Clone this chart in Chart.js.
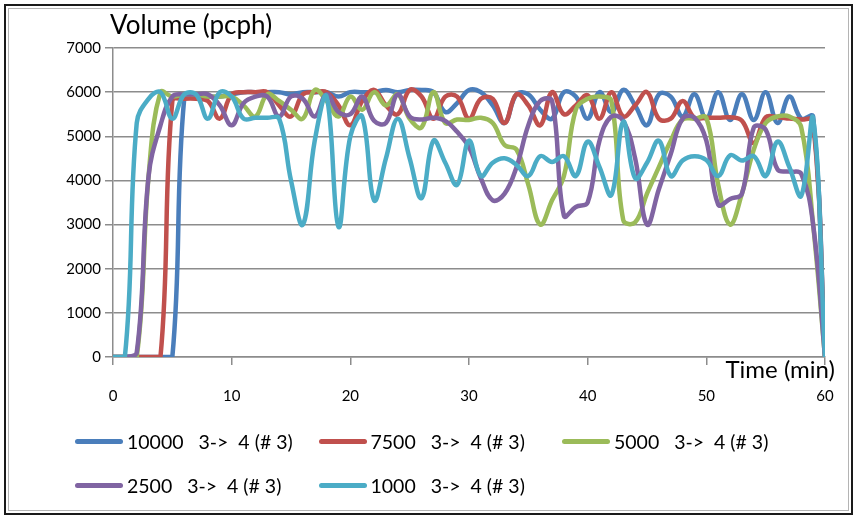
<!DOCTYPE html>
<html>
<head>
<meta charset="utf-8">
<script src="https://cdn.jsdelivr.net/npm/chart.js@4.4.1/dist/chart.umd.min.js"></script>
<style>
  html, body { margin: 0; padding: 0; background: #fff; }
  #wrap { position: relative; width: 858px; height: 518px; overflow: hidden; }
  #chart { position: absolute; left: 0; top: 0; }
  .frame { position: absolute; pointer-events: none; }
  #frameOuter { left: 4px; top: 4px; right: 5px; bottom: 3px; border: 2px solid #1a1a1a; }
  #frameInner { left: 8px; top: 8px; right: 9px; bottom: 7px; border: 1px solid #b4b4b4; }
  .leg { position: absolute; display: flex; align-items: center; font-family: Lato, sans-serif; font-size: 19.5px; color: #000; white-space: pre; }
  .leg .sw { display: inline-block; width: 48px; height: 5px; border-radius: 3px; margin-right: 4px; }
</style>
</head>
<body>
<div id="wrap">
  <canvas id="chart" width="858" height="518"></canvas>
  <div class="frame" id="frameOuter"></div>
  <div class="frame" id="frameInner"></div>
  <div id="legend"></div>
</div>
<script>
// Time axis, minutes
const minutes = [0, 1, 2, 3, 4, 5, 6, 7, 8, 9, 10, 11, 12, 13, 14, 15, 16, 17, 18, 19, 20,
  21, 22, 23, 24, 25, 26, 27, 28, 29, 30, 31, 32, 33, 34, 35, 36, 37, 38, 39, 40,
  41, 42, 43, 44, 45, 46, 47, 48, 49, 50, 51, 52, 53, 54, 55, 56, 57, 58, 59, 60];

// Volume (pcph) per series
const vol10000 = [0, 0, 0, 0, 0, 0, 5850, 5900, 5900, 5900, 5950, 6000, 6000, 6000, 6000, 5950, 6000, 6000, 6000, 5900, 6000,
  6000, 6000, 6050, 6000, 6050, 6050, 6000, 5550, 5750, 6050, 6000, 5700, 5300, 5950, 5950, 5600, 5400, 6000, 5900, 5400,
  6000, 5550, 6050, 5700, 5250, 5950, 5900, 5450, 5950, 5400, 6000, 5370, 5950, 5370, 6000, 5300, 5900, 5400, 5450, 0];
const vol7500 = [0, 0, 0, 0, 0, 5800, 5850, 5850, 5800, 5400, 5950, 6000, 6000, 6000, 5700, 5450, 5950, 6000, 6000, 5700, 5250,
  5800, 6050, 5700, 5500, 6050, 5900, 5400, 5900, 5900, 5400, 5850, 5850, 5300, 5950, 5700, 5250, 6000, 5500, 5700, 5930,
  5400, 6000, 5450, 5700, 6000, 5400, 5400, 5800, 5420, 5420, 5420, 5430, 5350, 4850, 5430, 5430, 5400, 5380, 5350, 0];
const vol5000 = [0, 0, 0, 4100, 6000, 5900, 5950, 5950, 5900, 5900, 5900, 5700, 5450, 5950, 5800, 5600, 5400, 6050, 5800, 5450, 5900,
  5600, 6000, 5700, 5950, 5400, 5200, 6000, 5300, 5380, 5370, 5420, 5300, 4800, 4700, 3900, 3000, 3550, 4100, 5600, 5850,
  5900, 5800, 3100, 3050, 3700, 4300, 4900, 5380, 5400, 5420, 3900, 3000, 3700, 4700, 5300, 5450, 5450, 5200, 3000, 0];
const vol2500 = [0, 0, 100, 4100, 5250, 5900, 5950, 5950, 5950, 5700, 5250, 5750, 5900, 5900, 5450, 5900, 5850, 5450, 5950, 5550, 5500,
  5900, 5350, 5300, 5950, 5450, 5380, 5420, 5350, 5100, 4750, 4050, 3550, 3700, 4300, 5250, 5800, 5800, 3200, 3400, 3500,
  4900, 5450, 5350, 4500, 3000, 3800, 4600, 5400, 5420, 4900, 3450, 3580, 3700, 5200, 5150, 4250, 4200, 4150, 3000, 0];
const vol1000 = [0, 0, 5300, 5850, 6000, 5400, 5950, 5950, 5400, 6000, 5900, 5400, 5420, 5420, 5400, 4000, 3000, 4900, 5900, 2950, 5000,
  5450, 3550, 4500, 5400, 4500, 3600, 4900, 4400, 3900, 4900, 4100, 4400, 4500, 4350, 4100, 4550, 4420, 4550, 4100, 4880,
  4300, 3670, 5330, 4050, 4400, 4900, 4100, 4450, 4550, 4460, 4100, 4570, 4450, 4550, 4100, 4880, 4300, 3650, 5400, 0];

const seriesNames = ['10000   3->  4 (# 3)', '7500   3->  4 (# 3)', '5000   3->  4 (# 3)',
  '2500   3->  4 (# 3)', '1000   3->  4 (# 3)'];
const seriesValues = [vol10000, vol7500, vol5000, vol2500, vol1000];
const seriesColors = ['#4a7ebb', '#c0504d', '#9bbb59', '#8064a2', '#4bacc6'];

const yTicks = [0, 1000, 2000, 3000, 4000, 5000, 6000, 7000];
const xTicks = [0, 10, 20, 30, 40, 50, 60];

const gridGray = '#8c8c8c';

// axis titles sit horizontally, Excel style
const axisTitles = {
  id: 'axisTitles',
  afterDraw(chart) {
    const ctx = chart.ctx;
    const area = chart.chartArea;
    ctx.save();
    ctx.fillStyle = '#000';
    ctx.textBaseline = 'alphabetic';
    ctx.font = '26px Lato';
    ctx.textAlign = 'left';
    ctx.fillText('Volume (pcph)', area.left - 3, area.top - 14);
    ctx.font = '24px Lato';
    ctx.textAlign = 'right';
    ctx.fillText('Time (min)', area.right + 10, area.bottom + 21);
    ctx.restore();
  }
};

const datasets = seriesValues.map(function(vals, i) {
  return {
    label: seriesNames[i],
    data: vals.map(function(v, j) { return { x: minutes[j], y: v }; }),
    borderColor: seriesColors[i],
    backgroundColor: seriesColors[i],
    order: seriesValues.length - i
  };
});

new Chart(document.getElementById('chart'), {
  type: 'line',
  data: { datasets: datasets },
  options: {
    responsive: false,
    animation: false,
    layout: { padding: { top: 48, right: 33, left: 0, bottom: 0 } },
    plugins: { legend: { display: false }, tooltip: { enabled: false } },
    elements: {
      point: { radius: 0 },
      line: { borderWidth: 4.5, tension: 0.4, borderCapStyle: 'round', borderJoinStyle: 'round', fill: false }
    },
    scales: {
      x: {
        type: 'linear',
        min: xTicks[0],
        max: xTicks[xTicks.length - 1],
        afterBuildTicks: function(s) { s.ticks = xTicks.map(function(v) { return { value: v }; }); },
        afterFit: function(s) { s.height = 161; },
        ticks: { padding: 22, color: '#000', font: { family: 'Lato', size: 15 }, maxRotation: 0,
          callback: function(v) { return String(v); } },
        grid: { drawOnChartArea: false, tickLength: 8, color: gridGray, lineWidth: 1.5 },
        border: { color: gridGray, width: 1.5 }
      },
      y: {
        min: yTicks[0],
        max: yTicks[yTicks.length - 1],
        afterBuildTicks: function(s) { s.ticks = yTicks.map(function(v) { return { value: v }; }); },
        afterFit: function(s) { s.width = 113; },
        ticks: { padding: 4, color: '#000', font: { family: 'Lato', size: 15 },
          callback: function(v) { return String(v); } },
        grid: { tickLength: 8, color: gridGray, lineWidth: 1.5 },
        border: { color: gridGray, width: 1.5 }
      }
    }
  },
  plugins: [axisTitles]
});

// legend, three columns like Excel
const legend = document.getElementById('legend');
seriesNames.forEach(function(name, i) {
  const item = document.createElement('div');
  item.className = 'leg';
  item.style.left = (75 + (i % 3) * 243.5) + 'px';
  item.style.top = (430 + Math.floor(i / 3) * 44) + 'px';
  const sw = document.createElement('span');
  sw.className = 'sw';
  sw.style.background = seriesColors[i];
  const txt = document.createElement('span');
  txt.textContent = name;
  item.appendChild(sw);
  item.appendChild(txt);
  legend.appendChild(item);
});
</script>
</body>
</html>
